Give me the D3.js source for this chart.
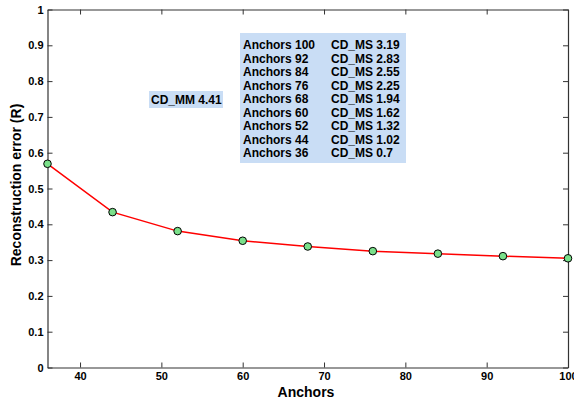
<!DOCTYPE html>
<html><head><meta charset="utf-8">
<script src="https://cdn.jsdelivr.net/npm/d3@7"></script>
<style>
html,body{margin:0;padding:0;background:#fff;}
svg{display:block;}
text{font-family:Arial,"Liberation Sans",sans-serif;font-weight:bold;fill:#000;}
</style></head>
<body><svg id="c" width="574" height="401"></svg>
<script>
const anchors = [36, 44, 52, 60, 68, 76, 84, 92, 100];
const reconError = [0.569, 0.434, 0.381, 0.354, 0.338, 0.325, 0.318, 0.311, 0.305];
const xTicks = [40, 50, 60, 70, 80, 90, 100];
const yTicks = [0, 0.1, 0.2, 0.3, 0.4, 0.5, 0.6, 0.7, 0.8, 0.9, 1];
const legendAnchors = [100, 92, 84, 76, 68, 60, 52, 44, 36];
const legendCDMS = ["3.19", "2.83", "2.55", "2.25", "1.94", "1.62", "1.32", "1.02", "0.7"];
const cdmmLabel = "CD_MM 4.41";

const svg = d3.select("#c");
const L = 47.5, R = 568, T = 9.5, B = 367.5;
const x = d3.scaleLinear().domain([36, 100]).range([L, R]);
const y = d3.scaleLinear().domain([0, 1]).range([B, T]);
const axisCol = "#333";

// bottom axis
const gx = svg.append("g").attr("transform", `translate(0,${B})`)
  .call(d3.axisBottom(x).tickValues(xTicks).tickSizeInner(-5).tickSizeOuter(0).tickPadding(5).tickFormat(d3.format("d")));
// top axis
const gxt = svg.append("g").attr("transform", `translate(0,${T})`)
  .call(d3.axisTop(x).tickValues(xTicks).tickSizeInner(-5).tickSizeOuter(0).tickFormat(""));
// left axis
const gy = svg.append("g").attr("transform", `translate(${L},0)`)
  .call(d3.axisLeft(y).tickValues(yTicks).tickSizeInner(-5).tickSizeOuter(0).tickPadding(4).tickFormat(d => d === 0 ? "0" : d === 1 ? "1" : d3.format(".1f")(d)));
// right axis
const gyr = svg.append("g").attr("transform", `translate(${R},0)`)
  .call(d3.axisRight(y).tickValues(yTicks).tickSizeInner(-5).tickSizeOuter(0).tickFormat(""));

[gx, gxt, gy, gyr].forEach(g => {
  g.select(".domain").attr("stroke", axisCol).attr("stroke-width", 1.2);
  g.selectAll(".tick line").attr("stroke", axisCol);
  g.selectAll(".tick text").attr("font-size", 11).attr("font-weight", "bold")
    .attr("font-family", "Arial, 'Liberation Sans', sans-serif").attr("fill", "#000");
});

// axis labels
svg.append("text").attr("x", 306).attr("y", 397)
  .attr("text-anchor", "middle").attr("font-size", 14).text("Anchors");
svg.append("text").attr("transform", `translate(21,185) rotate(-90)`)
  .attr("text-anchor", "middle").attr("font-size", 14).text("Reconstruction error (R)");

// line
const data = anchors.map((a, i) => ({a, v: reconError[i]}));
svg.append("path").datum(data)
  .attr("d", d3.line().x(d => x(d.a)).y(d => y(d.v)))
  .attr("fill", "none").attr("stroke", "#ff0000").attr("stroke-width", 1.5);
svg.selectAll("circle.pt").data(data).enter().append("circle")
  .attr("cx", d => x(d.a)).attr("cy", d => y(d.v)).attr("r", 3.8)
  .attr("fill", "#7ae08a").attr("stroke", "#000").attr("stroke-width", 1);

// legend box
const boxFill = "#c9ddf5";
svg.append("rect").attr("x", 240).attr("y", 33).attr("width", 166).attr("height", 130).attr("fill", boxFill);
const rows = svg.append("g");
legendAnchors.forEach((a, i) => {
  const yy = 49 + i * 13.5;
  rows.append("text").attr("x", 243).attr("y", yy).attr("font-size", 12).text("Anchors " + a);
  rows.append("text").attr("x", 331).attr("y", yy).attr("font-size", 12).text("CD_MS " + legendCDMS[i]);
});

// CD_MM box
svg.append("rect").attr("x", 149).attr("y", 91).attr("width", 74).attr("height", 17).attr("fill", boxFill);
svg.append("text").attr("x", 151).attr("y", 104).attr("font-size", 12).text(cdmmLabel);
</script></body></html>
